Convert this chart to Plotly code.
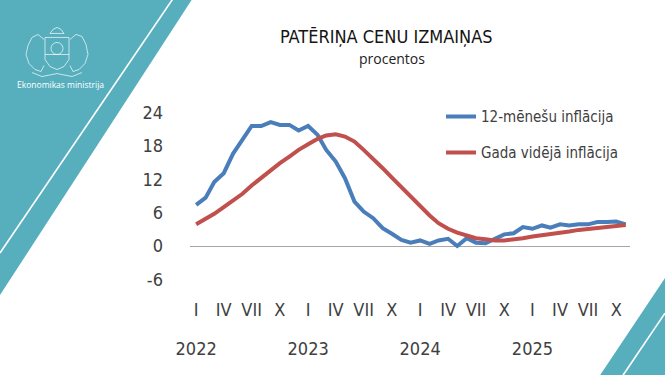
import pandas as pd
import plotly.graph_objects as go

# ---------------- data ----------------
months = pd.date_range("2022-01-01", "2025-11-01", freq="MS")

inflation_12m = [
    7.4, 8.7, 11.5, 13.1, 16.6, 19.3, 21.6, 21.6, 22.3, 21.8, 21.8, 20.8,   # 2022
    21.6, 20.0, 17.3, 15.2, 12.2, 8.0, 6.2, 5.0, 3.2, 2.2, 1.1, 0.6,        # 2023
    1.0, 0.4, 1.0, 1.3, 0.0, 1.4, 0.6, 0.5, 1.4, 2.1, 2.3, 3.4,             # 2024
    3.1, 3.7, 3.3, 3.9, 3.7, 3.9, 3.9, 4.3, 4.3, 4.4, 3.9,                  # 2025
]
inflation_avg = [
    3.9, 4.8, 5.8, 7.0, 8.1, 9.4, 10.9, 12.3, 13.6, 14.9, 16.1, 17.3,
    18.3, 19.3, 19.9, 20.1, 19.7, 18.8, 17.3, 15.7, 14.0, 12.3, 10.6, 8.9,
    7.1, 5.5, 4.1, 3.1, 2.4, 1.8, 1.4, 1.2, 1.0, 1.0, 1.15, 1.4,
    1.7, 1.9, 2.2, 2.4, 2.6, 2.9, 3.1, 3.3, 3.5, 3.7, 3.8,
]
series_names = ["12-mēnešu inflācija", "Gada vidējā inflācija"]

quarter_ticks = pd.date_range("2022-01-01", "2025-10-01", freq="QS")
quarter_labels = ["I", "IV", "VII", "X"] * 4
year_ticks = pd.date_range("2022-01-01", "2025-01-01", freq="YS")
year_labels = ["2022", "2023", "2024", "2025"]
y_ticks = [-6, 0, 6, 12, 18, 24]
y_tick_labels = ["-6", "0", "6", "12", "18", "24"]

title_text = "PATĒRIŅA CENU IZMAIŅAS"
subtitle_text = "procentos"
ministry_text = "Ekonomikas ministrija"

# ---------------- layout geometry ----------------
W, H = 665, 375
ML, MR, MT, MB = 190, 35, 96.4, 79.1
PW, PH = W - ML - MR, H - MT - MB

def px(x):
    return (x - ML) / PW

def py(y):
    return (H - MB - y) / PH

TEAL = "#57AFBE"
BLUE = "#4A7EBB"
RED = "#C0504D"
GREY_TXT = "#404040"
NARROW = "Liberation Sans Narrow, Arial Narrow, DejaVu Sans Condensed, sans-serif"

fig = go.Figure()
fig.add_trace(go.Scatter(x=months, y=inflation_12m, mode="lines", name=series_names[0],
                         line=dict(color=BLUE, width=4), legend="legend"))
fig.add_trace(go.Scatter(x=months, y=inflation_avg, mode="lines", name=series_names[1],
                         line=dict(color=RED, width=4), legend="legend2"))
# invisible trace for the year axis
fig.add_trace(go.Scatter(x=[months[0]], y=[None], xaxis="x2", showlegend=False, hoverinfo="skip"))

def path(points, close=True):
    s = "M " + " L ".join(f"{px(a):.5f},{py(b):.5f}" for a, b in points)
    return s + (" Z" if close else "")

shapes = [
    dict(type="path", xref="paper", yref="paper", layer="below",
         path=path([(0, 0), (192, 0), (0, 295)]), fillcolor=TEAL, line=dict(width=0)),
    dict(type="line", xref="paper", yref="paper", layer="below",
         x0=px(172.5), y0=py(0), x1=px(0), y1=py(253), line=dict(color="white", width=1.6)),
    dict(type="path", xref="paper", yref="paper", layer="below",
         path=path([(600, 375), (665, 278), (665, 375)]), fillcolor=TEAL, line=dict(width=0)),
    dict(type="line", xref="paper", yref="paper", layer="below",
         x0=px(623), y0=py(375), x1=px(665), y1=py(313), line=dict(color="white", width=1.6)),
]

# simplified emblem (white outline)
emb = dict(color="rgba(255,255,255,0.85)", width=0.8)
shapes += [
    dict(type="path", xref="paper", yref="paper", line=emb,
         path=path([(45, 38), (69, 38), (69, 60), (64, 67), (57, 70), (50, 67), (45, 60), (45, 38)], False)),
    dict(type="circle", xref="paper", yref="paper", line=emb,
         x0=px(51), x1=px(63), y0=py(43), y1=py(55)),
    dict(type="line", xref="paper", yref="paper", line=emb,
         x0=px(45), x1=px(69), y0=py(55), y1=py(55)),
    dict(type="path", xref="paper", yref="paper", line=emb,
         path=path([(50, 34), (53, 30), (57, 28), (61, 30), (64, 34), (50, 34)], False)),
    dict(type="path", xref="paper", yref="paper", line=emb,
         path=path([(44, 40), (38, 35), (32, 38), (28, 46), (26, 55), (29, 64), (35, 70), (41, 72), (44, 66)], False)),
    dict(type="path", xref="paper", yref="paper", line=emb,
         path=path([(70, 40), (76, 35), (82, 37), (86, 45), (88, 55), (85, 64), (79, 70), (73, 72), (70, 66)], False)),
    dict(type="path", xref="paper", yref="paper", line=emb,
         path=path([(32, 73), (42, 77), (57, 74), (72, 77), (82, 73)], False)),
]

annotations = [
    dict(text=title_text, xref="paper", yref="paper", x=px(386), y=py(37), showarrow=False,
         font=dict(family=NARROW, size=18, color="#141414"), xanchor="center", yanchor="middle"),
    dict(text=subtitle_text, xref="paper", yref="paper", x=px(392), y=py(59), showarrow=False,
         font=dict(family="Open Sans, sans-serif", size=14, color="#222222"), xanchor="center", yanchor="middle"),
    dict(text=ministry_text, xref="paper", yref="paper", x=px(15), y=py(84.5), showarrow=False,
         font=dict(family="Open Sans, sans-serif", size=8.5, color="white"), xanchor="left", yanchor="middle"),
]

tickfont = dict(family=NARROW, size=18, color=GREY_TXT)
fig.update_layout(
    width=W, height=H,
    margin=dict(l=ML, r=MR, t=MT, b=MB),
    paper_bgcolor="white", plot_bgcolor="rgba(0,0,0,0)",
    shapes=shapes, annotations=annotations,
    xaxis=dict(type="date", range=["2021-12-12", "2025-11-15"],
               tickvals=list(quarter_ticks), ticktext=quarter_labels,
               showgrid=False, showline=False, zeroline=False, ticks="",
               tickfont=tickfont, ticklabelstandoff=1),
    xaxis2=dict(type="date", range=["2021-12-12", "2025-11-15"], overlaying="x", anchor="y", side="bottom",
                tickvals=list(year_ticks), ticktext=year_labels,
                showgrid=False, showline=False, zeroline=False, ticks="",
                tickfont=tickfont, ticklabelstandoff=40),
    yaxis=dict(range=[-9, 27], tickvals=y_ticks, ticktext=y_tick_labels,
               showgrid=False, showline=False, ticks="",
               zeroline=True, zerolinecolor="#A6A6A6", zerolinewidth=1,
               tickfont=tickfont, ticklabelstandoff=26),
    legend=dict(x=px(441), y=py(117), xanchor="left", yanchor="middle", bgcolor="rgba(0,0,0,0)",
                font=dict(family=NARROW, size=15, color=GREY_TXT)),
    legend2=dict(x=px(441), y=py(153), xanchor="left", yanchor="middle", bgcolor="rgba(0,0,0,0)",
                 font=dict(family=NARROW, size=15, color=GREY_TXT)),
    showlegend=True,
)

fig.write_html("out.html", config={"displayModeBar": False},
               post_script="document.body.style.margin='0';")
